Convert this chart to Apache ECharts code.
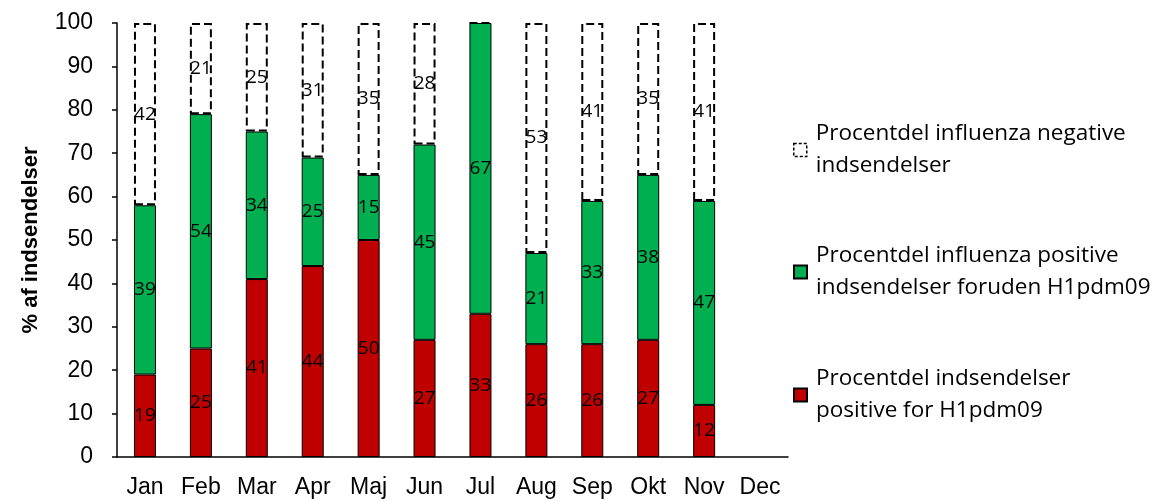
<!DOCTYPE html>
<html>
<head>
<meta charset="utf-8">
<script src="https://cdn.jsdelivr.net/npm/echarts@6/dist/echarts.min.js"></script>
<style>
  html, body { margin: 0; padding: 0; background: #fff; }
  #chart { width: 1158px; height: 501px; }
</style>
</head>
<body>
<div id="chart"></div>
<script>
const months = ['Jan', 'Feb', 'Mar', 'Apr', 'Maj', 'Jun', 'Jul', 'Aug', 'Sep', 'Okt', 'Nov', 'Dec']
const h1pdm09 = [19, 25, 41, 44, 50, 27, 33, 26, 26, 27, 12, null]
const otherPositive = [39, 54, 34, 25, 15, 45, 67, 21, 33, 38, 47, null]
const negative = [42, 21, 25, 31, 35, 28, 0, 53, 41, 35, 41, null]

const labelFont = '"Open Sans", "Noto Sans", sans-serif'
const tickFont = '"Liberation Sans", Arial, sans-serif'

const chart = echarts.init(document.getElementById('chart'))

const segLabel = {
  show: true,
  position: 'inside',
  color: '#000',
  fontFamily: labelFont,
  fontSize: 19,
  formatter: (p) => (p.value ? p.value : ''),
}

const legendText = {
  color: '#000',
  fontFamily: labelFont,
  fontSize: 22.5,
  lineHeight: 32,
  padding: [32, 0, 0, 4],
}

const legendCommon = {
  left: 793,
  padding: 0,
  icon: 'rect',
  itemWidth: 13,
  itemHeight: 13,
  itemGap: 0,
  selectedMode: false,
  textStyle: legendText,
}

const option = {
  animation: false,
  grid: {
    left: 117,
    right: 370,
    top: 23,
    bottom: 44,
  },
  legend: [
    Object.assign({}, legendCommon, {
      top: 102,
      data: [{ name: 'neg', itemStyle: { borderWidth: 1.5, borderType: [3, 2] } }],
      formatter: () => 'Procentdel influenza negative\nindsendelser',
    }),
    Object.assign({}, legendCommon, {
      top: 224,
      data: ['pos'],
      formatter: () => 'Procentdel influenza positive\nindsendelser foruden H1pdm09',
    }),
    Object.assign({}, legendCommon, {
      top: 347,
      data: ['h1'],
      formatter: () => 'Procentdel indsendelser\npositive for H1pdm09',
    }),
  ],
  xAxis: {
    type: 'category',
    data: months,
    axisLine: { lineStyle: { color: '#000', width: 1.5 } },
    axisTick: { show: false },
    axisLabel: {
      color: '#000',
      fontFamily: tickFont,
      fontSize: 23,
      margin: 19,
    },
  },
  yAxis: {
    type: 'value',
    min: 0,
    max: 100,
    interval: 10,
    name: '% af indsendelser',
    nameLocation: 'middle',
    nameGap: 75,
    nameTextStyle: {
      color: '#000',
      fontFamily: tickFont,
      fontSize: 22,
      fontWeight: 'bold',
    },
    axisLine: { show: true, lineStyle: { color: '#000', width: 1.5 } },
    axisTick: { show: true, length: 5, lineStyle: { color: '#000', width: 1.5 } },
    splitLine: { show: false },
    axisLabel: {
      color: '#000',
      fontFamily: tickFont,
      fontSize: 23,
      margin: 24,
    },
  },
  series: [
    {
      name: 'h1',
      type: 'bar',
      stack: 'total',
      barWidth: 22,
      data: h1pdm09,
      itemStyle: { color: '#C00000', borderColor: '#000', borderWidth: 1 },
      label: segLabel,
    },
    {
      name: 'pos',
      type: 'bar',
      stack: 'total',
      barWidth: 22,
      data: otherPositive,
      itemStyle: { color: '#00B050', borderColor: '#000', borderWidth: 1 },
      label: segLabel,
    },
    {
      name: 'neg',
      type: 'bar',
      stack: 'total',
      barWidth: 22,
      data: negative,
      itemStyle: {
        color: '#fff',
        borderColor: '#000',
        borderWidth: 2,
        borderType: [8, 4],
      },
      label: segLabel,
    },
  ],
}

chart.setOption(option)
</script>
</body>
</html>
